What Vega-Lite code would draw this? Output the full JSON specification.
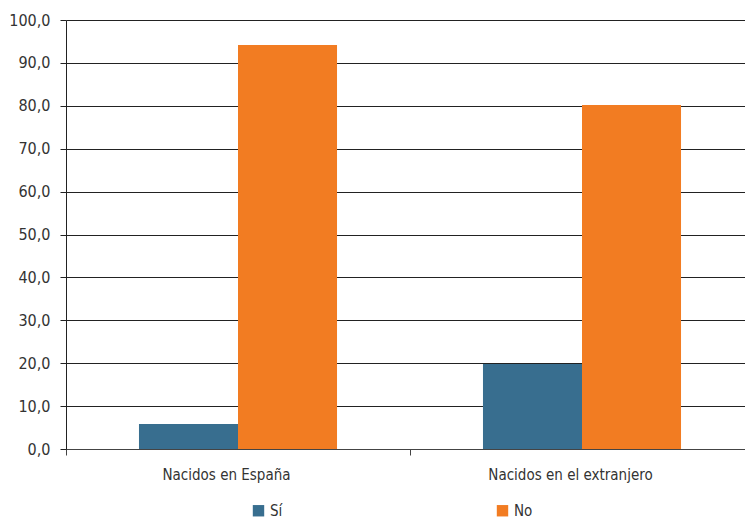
{
  "$schema": "https://vega.github.io/schema/vega-lite/v6.json",
  "autosize": "none",
  "width": 688,
  "height": 429,
  "padding": {"left": 66, "top": 20, "right": 0, "bottom": 71},
  "background": "white",
  "config": {
    "view": {"stroke": null},
    "font": "Liberation Sans Narrow, DejaVu Sans Condensed, sans-serif",
    "axis": {"labelFont": "Liberation Sans Narrow, DejaVu Sans Condensed, sans-serif", "labelFontSize": 15, "labelColor": "#333333"},
    "legend": {"labelFont": "Liberation Sans Narrow, DejaVu Sans Condensed, sans-serif", "labelFontSize": 15, "labelColor": "#333333"}
  },
  "data": {
    "values": [
      {"grupo": "Nacidos en España", "respuesta": "Sí", "valor": 5.8},
      {"grupo": "Nacidos en España", "respuesta": "No", "valor": 94.2},
      {"grupo": "Nacidos en el extranjero", "respuesta": "Sí", "valor": 19.8},
      {"grupo": "Nacidos en el extranjero", "respuesta": "No", "valor": 80.2}
    ]
  },
  "mark": {"type": "bar"},
  "encoding": {
    "x": {
      "field": "grupo", "type": "nominal", "sort": null,
      "scale": {"paddingInner": 0, "paddingOuter": 0},
      "axis": {
        "title": null, "labelAngle": 0, "tickBand": "extent",
        "domainColor": "#444444", "tickColor": "#444444", "tickSize": 6,
        "labelPadding": 12, "labelOffset": -12, "grid": false
      }
    },
    "xOffset": {
      "field": "respuesta", "type": "nominal", "sort": ["Sí", "No"],
      "scale": {"paddingInner": 0, "paddingOuter": 0.737}
    },
    "y": {
      "field": "valor", "type": "quantitative",
      "scale": {"domain": [0, 100]},
      "axis": {
        "title": null, "values": [0, 10, 20, 30, 40, 50, 60, 70, 80, 90, 100],
        "labelExpr": "replace(format(datum.value, '.1f'), '.', ',')",
        "labelFontSize": 16,
        "grid": true, "gridColor": "#222222", "gridWidth": 1,
        "domainColor": "#222222", "tickColor": "#222222", "tickSize": 6,
        "labelPadding": 10
      }
    },
    "color": {
      "field": "respuesta", "type": "nominal", "sort": ["Sí", "No"],
      "scale": {"domain": ["Sí", "No"], "range": ["#386E8F", "#F27C22"]},
      "legend": {
        "title": null, "orient": "none", "legendX": 185, "legendY": 483,
        "direction": "horizontal", "columns": 2, "columnPadding": 212,
        "symbolType": "square", "symbolSize": 130, "symbolStrokeWidth": 0,
        "labelOffset": 4
      }
    }
  }
}
